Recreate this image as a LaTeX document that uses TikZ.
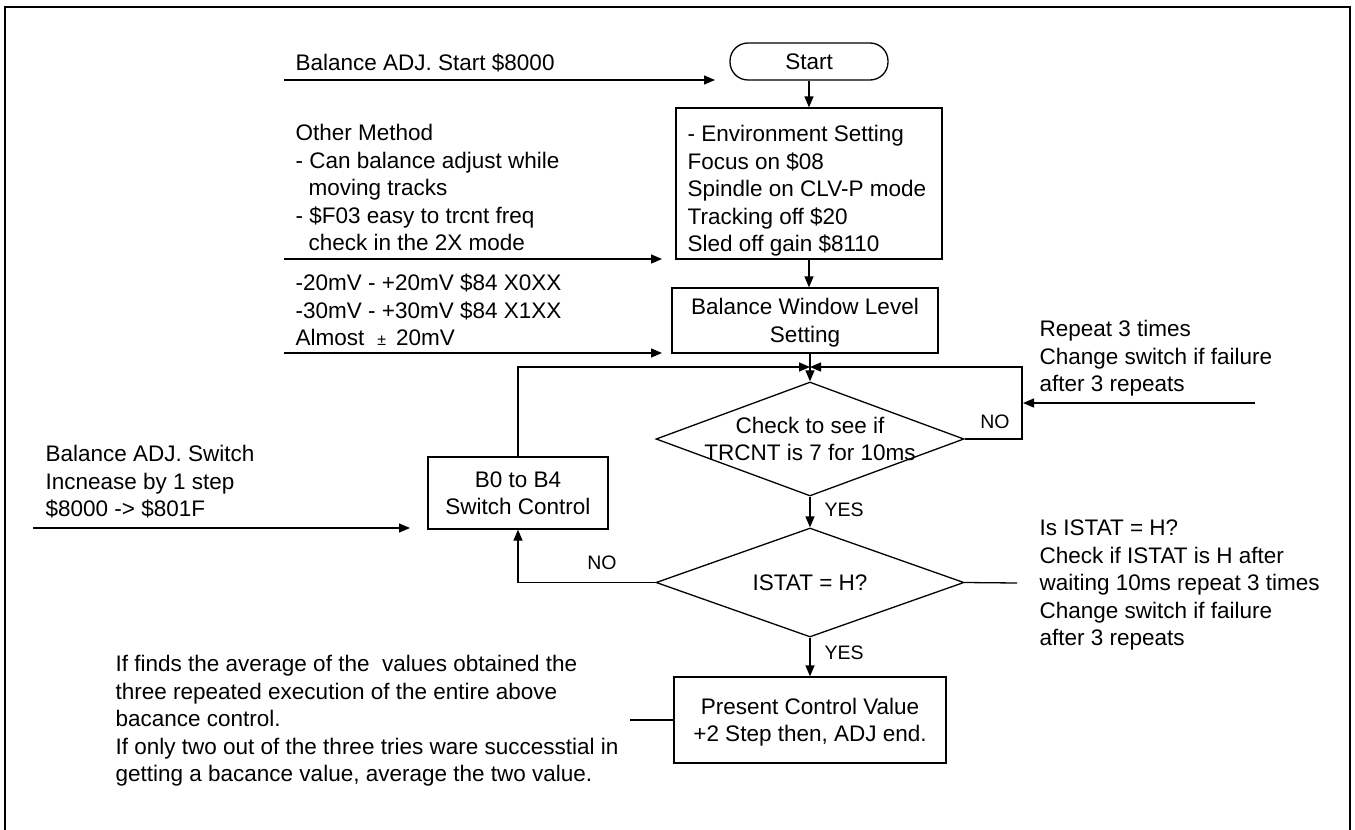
\documentclass[tikz,border=0pt]{standalone}
\usepackage{fontspec}
\setmainfont{Liberation Sans}
\usetikzlibrary{arrows.meta,shapes.geometric}
\newcommand\fs{\fontsize{22.5}{27.5}\selectfont}
\newcommand\fl{\fontsize{19.5}{23}\selectfont}
\newcommand\ls{\rule[-5.75pt]{0pt}{27.5pt}}
\begin{document}
\begin{tikzpicture}[x=1pt,y=-1pt,line width=1.3pt,
  arr/.style={-{Triangle[length=11pt,width=9pt]}},
  box/.style={draw,rectangle,inner sep=0,align=center,font=\fs},
  txt/.style={anchor=north west,inner sep=0,align=left,font=\fs},
  lab/.style={inner sep=0,font=\fl},
  dia/.style={draw,diamond,inner sep=0,minimum width=308pt,minimum height=114pt}]
\useasboundingbox (0,0) rectangle (1355,830);
\draw[line width=2.5pt] (5,834) -- (5,7) -- (1350,7) -- (1350,834);

% flow nodes
\node[box,rounded corners=18pt,minimum width=158pt,minimum height=37pt] (start) at (809,61.5) {Start};
\node[box,minimum width=266pt,minimum height=151pt] (env) at (809,183.5) {};
\node[txt] (envt) at (687,119.25) {\ls - Environment Setting\\\ls Focus on \$08\\\ls Spindle on CLV-P mode\\\ls Tracking off \$20\\\ls Sled off gain \$8110};
\node[box,minimum width=266pt,minimum height=65pt] (bw) at (805,320.5) {\ls Balance Window Level\\\ls Setting};
\node[dia] (d1) at (810,439) {};
\node[inner sep=0,align=center,font=\fs] (d1t) at (810,439) {\ls Check to see if\\\ls TRCNT is 7 for 10ms};
\node[dia,minimum height=109pt] (d2) at (810,582.5) {};
\node[inner sep=0,font=\fs] (d2t) at (810,583) {ISTAT = H?};
\node[box,minimum width=180pt,minimum height=72pt] (b0) at (518,493) {\ls B0 to B4\\\ls Switch Control};
\node[box,minimum width=272pt,minimum height=86pt] (pres) at (810,720) {\ls Present Control Value\\\ls +2 Step then, ADJ end.};

% side texts
\node[txt] (t1) at (295,48.25) {\ls Balance ADJ. Start \$8000};
\node[txt] (t2) at (295,118.25) {\ls Other Method\\\ls - Can balance adjust while\\\ls\hspace*{13pt}moving tracks\\\ls - \$F03 easy to trcnt freq\\\ls\hspace*{13pt}check in the 2X mode};
\node[txt] (t3) at (295,268.25) {\ls -20mV - +20mV \$84 X0XX\\\ls -30mV - +30mV \$84 X1XX\\\ls Almost\hspace{13pt}{\fontsize{16}{20}\selectfont ±}\hspace{10pt}20mV};
\node[txt] (t4) at (45,439.25) {\ls Balance ADJ. Switch\\\ls Incnease by 1 step\\\ls \$8000 -> \$801F};
\node[txt] (t5) at (1039,314.25) {\ls Repeat 3 times\\\ls Change switch if failure\\\ls after 3 repeats};
\node[txt] (t6) at (1039,513.25) {\ls Is ISTAT = H?\\\ls Check if ISTAT is H after\\\ls waiting 10ms repeat 3 times\\\ls Change switch if failure\\\ls after 3 repeats};
\node[txt] (t7) at (115,649.25) {\ls If finds the average of the~ values obtained the\\\ls three repeated execution of the entire above\\\ls bacance control.\\\ls If only two out of the three tries ware successtial in\\\ls getting a bacance value, average the two value.};

% labels
\node[lab,anchor=west] (yes1) at (824,510) {YES};
\node[lab,anchor=west] (yes2) at (824,653) {YES};
\node[lab] (no1) at (995,422) {NO};
\node[lab] (no2) at (602,563) {NO};

% coordinates
\coordinate (s1) at (284,80);   \coordinate (e1) at (715,80);
\coordinate (s2) at (284,259);  \coordinate (e2) at (662,259);
\coordinate (s3) at (284,353);  \coordinate (e3) at (662,353);
\coordinate (jn) at (810,367);
\coordinate (rl) at (1022,439);
\coordinate (s4) at (1255,403); \coordinate (e4) at (1023,403);
\coordinate (e5) at (1017,583);
\coordinate (s6) at (630,720);
\coordinate (s7) at (33,528);   \coordinate (e7) at (410,528);

% connectors
\draw[arr] (s1) -- (e1);
\draw[arr] (start.south) -- (env.north);
\draw[arr] (s2) -- (e2);
\draw[arr] (env.south) -- (env.south |- bw.north);
\draw[arr] (s3) -- (e3);
\draw[arr] (d1.north |- bw.south) -- (d1.north);
\draw[arr] (b0.north) |- (jn);
\draw[arr] (d1.east) -- (rl) |- (jn);
\draw[arr] (s4) -- (e4);
\draw[arr] (d1.south) -- (d2.north);
\draw[arr] (d2.west) -| (b0.south);
\draw (d2.east) -- (e5);
\draw[arr] (d2.south) -- (pres.north);
\draw (s6) -- (pres.west);
\draw[arr] (s7) -- (e7);
\end{tikzpicture}
\end{document}
